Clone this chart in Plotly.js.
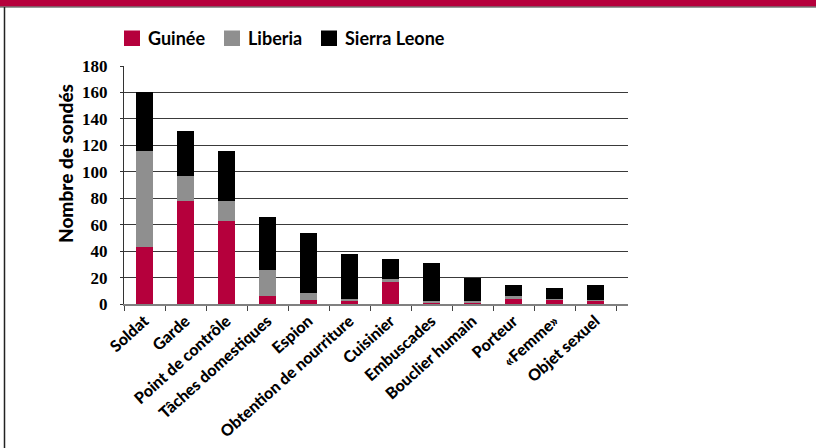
<!DOCTYPE html>
<html>
<head>
<meta charset="utf-8">
<script src="https://cdn.plot.ly/plotly-3.0.1.min.js"></script>
<style>
html,body{margin:0;padding:0;background:#fff;}
#chart{width:816px;height:448px;}
</style>
</head>
<body>
<div id="chart"></div>
<script>
const categories = ["Soldat","Garde","Point de contrôle","Tâches domestiques","Espion","Obtention de nourriture","Cuisinier","Embuscades","Bouclier humain","Porteur","«Femme»","Objet sexuel"];
const guinee      = [43, 78, 63,  6,  3,  2, 17,  1,  1, 4, 3,  2];
const liberia     = [73, 19, 15, 20,  5,  2,  2,  1,  1, 2, 1,  1];
const sierraLeone = [44, 34, 38, 40, 46, 34, 15, 29, 18, 8, 8, 11];
const seriesNames = ["Guinée","Liberia","Sierra Leone"];
const seriesColors = ["#b5003c","#8f8f8f","#000000"];
const yTicks = [0,20,40,60,80,100,120,140,160,180];

const seriesValues = [guinee, liberia, sierraLeone];
const traces = seriesValues.map((vals, i) => ({
  type: 'bar',
  name: seriesNames[i],
  x: categories,
  y: vals,
  marker: {color: seriesColors[i], line: {width: 0}},
  showlegend: false,
  hoverinfo: 'x+y+name'
}));

// plot area geometry (pixels) used to convert to paper coords for decoration
const L = 124, T = 66, W = 504, H = 238;
const px = v => (v - L) / W;
const py = v => (T + H - v) / H;

const shapes = [
  // top red band
  {type:'rect', xref:'paper', yref:'paper', x0:px(0), x1:px(816), y0:py(6.5), y1:py(-2), fillcolor:'#b5003c', line:{width:0}, layer:'above'},
  {type:'line', xref:'paper', yref:'paper', x0:px(0), x1:px(816), y0:py(7), y1:py(7), line:{color:'#333', width:1.2}},
  // left frame line
  {type:'line', xref:'paper', yref:'paper', x0:px(4.5), x1:px(4.5), y0:py(7), y1:py(450), line:{color:'#222', width:1.5}}
];
const annotations = [];
// legend (manual)
const legendX = [124, 224, 321];
seriesNames.forEach((n, i) => {
  shapes.push({type:'rect', xref:'paper', yref:'paper', x0:px(legendX[i]), x1:px(legendX[i]+16), y0:py(46), y1:py(30.5), fillcolor:seriesColors[i], line:{width:0}});
  annotations.push({xref:'paper', yref:'paper', x:px(legendX[i]+22), y:py(38.5), xanchor:'left', yanchor:'middle', showarrow:false, text:n, font:{family:'Lato', size:18, weight:'bold', color:'#000'}});
});
// y axis title
annotations.push({xref:'paper', yref:'paper', x:px(65), y:py(164), xanchor:'center', yanchor:'middle', showarrow:false, textangle:-90, text:'Nombre de sondés', font:{family:'Lato', size:19, weight:900, color:'#000'}});

const layout = {
  width: 816, height: 448,
  margin: {l: L, r: 816 - L - W, t: T, b: 448 - T - H, pad: 0},
  paper_bgcolor: '#fff', plot_bgcolor: '#fff',
  barmode: 'stack',
  bargap: 0.59,
  showlegend: false,
  xaxis: {
    type: 'category',
    range: [-0.5, 11.5 + 12/41],
    showline: true, linecolor: '#808080', linewidth: 1.5,
    ticks: 'outside', tickson: 'boundaries', ticklen: 5, tickcolor: '#444', tickwidth: 1,
    tickangle: -42,
    tickfont: {family: 'Lato', size: 16, weight: 900, color: '#000'},
    showgrid: false, zeroline: false, fixedrange: true
  },
  yaxis: {
    range: [0, 180],
    tickvals: yTicks,
    ticktext: yTicks.map(String),
    showline: true, linecolor: '#333', linewidth: 1.2,
    ticks: 'outside', ticklen: 3, tickcolor: '#333',
    showgrid: true, gridcolor: '#3a3a3a', gridwidth: 1,
    zeroline: false,
    tickfont: {family: 'Liberation Serif', size: 17, weight: 'bold', color: '#000'},
    ticklabelstandoff: 9,
    fixedrange: true
  },
  shapes: shapes,
  annotations: annotations
};

Plotly.newPlot('chart', traces, layout, {displayModeBar: false, staticPlot: true});
</script>
</body>
</html>
